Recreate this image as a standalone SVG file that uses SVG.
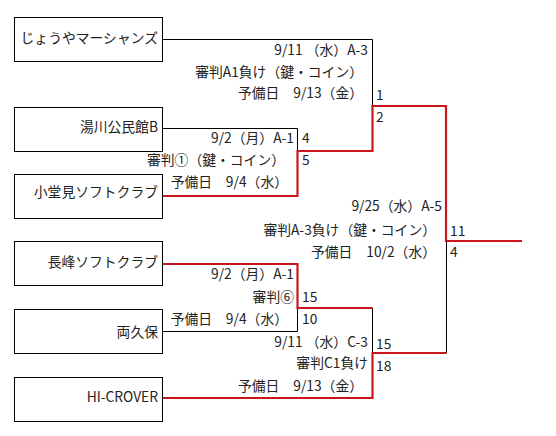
<svg xmlns="http://www.w3.org/2000/svg" width="556" height="436" viewBox="0 0 556 436">
<style>
text{font-family:"Noto Sans CJK JP","Noto Sans",sans-serif;font-size:13.8px;fill:#222}
.e{text-anchor:end}
.box{fill:#fff;stroke:#000;stroke-width:1}
.bk{fill:none;stroke:#000;stroke-width:1}
.rd{fill:none;stroke:#c8161d;stroke-width:2.2}
</style>
<rect width="556" height="436" fill="#fff"/>
<g id="connectors">
<polyline class="bk" points="162,39.5 372.5,39.5 372.5,106"/>
<polyline class="bk" points="162,128.5 297.5,128.5 297.5,151"/>
<polyline class="bk" points="162,331.5 297.5,331.5 297.5,308"/>
<polyline class="bk" points="372.5,308 372.5,353"/>
<polyline class="bk" points="446.5,241 446.5,353"/>
<polyline class="rd" points="162,196 297.5,196 297.5,151 372.5,151 372.5,106 446,106 446,241 522,241"/>
<polyline class="rd" points="162,264 297.5,264 297.5,308 372.5,308"/>
<polyline class="rd" points="162,398 372.5,398 372.5,353 446.5,353"/>
</g>
<g id="n1"><rect class="box" x="14.5" y="17.5" width="148" height="44"/><text class="e" x="158" y="43">じょうやマーシャンズ</text></g>
<g id="n2"><rect class="box" x="14.5" y="107.5" width="148" height="44"/><text class="e" x="158" y="132">湯川公民館B</text></g>
<g id="n3"><rect class="box" x="14.5" y="174.5" width="148" height="44"/><text class="e" x="158" y="197">小堂見ソフトクラブ</text></g>
<g id="n4"><rect class="box" x="14.5" y="241.5" width="148" height="44"/><text class="e" x="158" y="267">長峰ソフトクラブ</text></g>
<g id="n5"><rect class="box" x="14.5" y="309.5" width="148" height="44"/><text class="e" x="158" y="337">両久保</text></g>
<g id="n6"><rect class="box" x="14.5" y="377.5" width="148" height="44"/><text class="e" x="158" y="402">HI-CROVER</text></g>
<g id="labels">
<text class="e" x="368" y="55" xml:space="preserve">9/11 （水）A-3</text>
<text class="e" x="363" y="77">審判A1負け（鍵・コイン）</text>
<text class="e" x="363" y="98">予備日　9/13（金）</text>
<text x="376" y="100">1</text>
<text x="376" y="122">2</text>
<text class="e" x="294" y="143">9/2（月）A-1</text>
<text x="302" y="143">4</text>
<text class="e" x="285" y="165">審判①（鍵・コイン）</text>
<text x="302" y="165">5</text>
<text class="e" x="288" y="187">予備日　9/4（水）</text>
<text class="e" x="442" y="211">9/25（水）A-5</text>
<text class="e" x="436" y="235">審判A-3負け（鍵・コイン）</text>
<text x="450" y="236">11</text>
<text class="e" x="436" y="257">予備日　10/2（水）</text>
<text x="450" y="257">4</text>
<text class="e" x="294" y="279">9/2（月）A-1</text>
<text class="e" x="294" y="302">審判⑥</text>
<text x="302" y="302">15</text>
<text class="e" x="288" y="324">予備日　9/4（水）</text>
<text x="302" y="324">10</text>
<text class="e" x="368" y="347" xml:space="preserve">9/11 （水）C-3</text>
<text x="376" y="349">15</text>
<text class="e" x="368" y="368">審判C1負け</text>
<text x="376" y="371">18</text>
<text class="e" x="363" y="391">予備日　9/13（金）</text>
</g>
</svg>
